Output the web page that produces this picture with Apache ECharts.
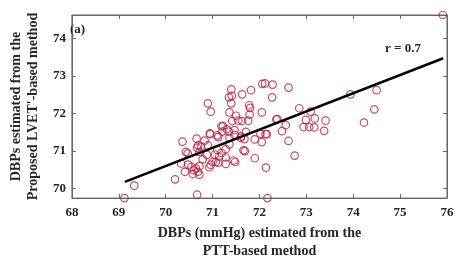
<!DOCTYPE html>
<html><head><meta charset="utf-8">
<script src="https://cdn.jsdelivr.net/npm/echarts@6/dist/echarts.min.js"></script>
<style>html,body{margin:0;padding:0;background:#fff}#c{width:457px;height:265px}</style>
</head><body><div id="c"></div>
<script>
// PTT-based DBP (x) vs proposed LVET'-based DBP (y)
const ptt = [75.91,70.90,70.96,71.40,71.35,71.41,71.40,71.63,71.82,71.78,71.80,71.36,71.50,72.05,72.06,72.12,72.28,72.62,72.27,73.94,74.50,72.85,73.09,74.45,74.23,72.99,73.18,73.41,72.94,73.06,73.17,73.38,72.36,72.56,72.48,71.90,72.02,72.13,72.16,72.05,72.62,71.90,72.75,72.14,72.17,71.79,71.76,71.63,72.38,71.71,71.68,71.69,71.22,71.30,71.35,70.94,71.10,71.47,71.55,71.42,70.36,70.66,71.47,71.61,70.69,70.75,70.90,70.43,70.47,70.72,71.10,71.19,71.28,71.36,71.66,70.88,71.05,71.14,71.28,70.79,71.00,71.07,71.45,70.41,70.55,70.60,70.64,70.69,70.72,70.58,70.72,70.96,70.93,71.12,70.48,70.20,70.67,71.48,71.28,69.33,69.12,70.95,70.83,71.12,70.67,71.19,71.21,71.60,71.36,70.33];
const lvet = [74.62,72.27,72.05,72.64,72.43,72.47,72.27,72.51,72.62,72.22,72.15,72.03,71.94,72.03,72.79,72.80,72.77,72.69,72.43,72.51,72.62,72.14,72.05,72.11,71.76,71.83,71.87,71.81,71.64,71.64,71.63,71.54,71.84,71.69,71.53,71.31,71.46,71.45,71.45,71.24,71.27,70.81,70.88,70.56,69.75,71.97,71.81,71.80,71.85,71.51,71.32,71.00,71.67,71.58,71.52,71.47,71.42,71.56,71.81,71.80,71.25,71.33,71.43,71.39,71.15,71.12,71.15,70.98,70.94,70.98,71.03,70.95,71.05,71.18,71.02,70.90,70.91,70.85,70.83,70.78,70.71,70.71,70.75,70.45,70.58,70.49,70.54,70.45,70.37,70.39,70.60,70.64,70.57,70.69,70.64,70.25,69.84,70.71,70.66,70.08,69.75,71.45,71.28,71.37,71.09,71.66,71.52,71.35,71.35,70.67];
// regression line endpoints
const fitX = [69.13, 75.92];
const fitY = [70.18, 73.47];
const yTicks = [70, 71, 72, 73, 74];
const xTitle = 'DBPs (mmHg) estimated from the\nPTT-based method';
const yTitle = 'DBPs estimated from the\nProposed LVET\'-based method';
const panelLabel = '(a)';
const rLabel = 'r = 0.7';

const serif = 'Liberation Serif';
const txt = '#262626';
const axCol = '#666';
const scatterData = ptt.map((v, i) => [v, lvet[i]]);
const lineData = fitX.map((v, i) => [v, fitY[i]]);

const chart = echarts.init(document.getElementById('c'), null, {renderer: 'canvas'});
chart.setOption({
  animation: false,
  grid: {left: 62.5, right: 10, top: 15, bottom: 59, show: true, borderColor: axCol, borderWidth: 1},
  xAxis: [
    {type: 'value', min: 68, max: 76, interval: 1, position: 'bottom',
     axisLine: {show: true, onZero: false, lineStyle: {color: axCol}},
     axisTick: {show: true, inside: true, length: 4, lineStyle: {color: axCol}},
     splitLine: {show: false},
     axisLabel: {color: txt, fontFamily: serif, fontWeight: 'bold', fontSize: 13, margin: 8},
     name: xTitle, nameLocation: 'middle', nameGap: 25,
     nameTextStyle: {color: txt, fontFamily: serif, fontWeight: 'bold', fontSize: 14, lineHeight: 18}},
    {type: 'value', min: 68, max: 76, interval: 1, position: 'top',
     axisLine: {show: true, onZero: false, lineStyle: {color: axCol}},
     axisTick: {show: true, inside: true, length: 4, lineStyle: {color: axCol}},
     axisLabel: {show: false}, splitLine: {show: false}}
  ],
  yAxis: [
    {type: 'value', min: 69.75, max: 74.62, position: 'left',
     axisLine: {show: true, onZero: false, lineStyle: {color: axCol}},
     axisTick: {show: true, inside: true, length: 4, customValues: yTicks, lineStyle: {color: axCol}},
     splitLine: {show: false},
     axisLabel: {customValues: yTicks, color: txt, fontFamily: serif, fontWeight: 'bold', fontSize: 13, margin: 6},
     name: yTitle, nameLocation: 'middle', nameRotate: 90, nameGap: 26,
     nameTextStyle: {color: txt, fontFamily: serif, fontWeight: 'bold', fontSize: 14, lineHeight: 17}},
    {type: 'value', min: 69.75, max: 74.62, position: 'right',
     axisLine: {show: true, onZero: false, lineStyle: {color: axCol}},
     axisTick: {show: true, inside: true, length: 4, customValues: yTicks, lineStyle: {color: axCol}},
     axisLabel: {show: false}, splitLine: {show: false}}
  ],
  series: [
    {type: 'scatter', xAxisIndex: 0, yAxisIndex: 0, data: scatterData, symbol: 'circle', symbolSize: 7.5,
     itemStyle: {color: 'rgba(0,0,0,0)', borderColor: '#b8213f', borderWidth: 1.2}, z: 2},
    {type: 'line', xAxisIndex: 0, yAxisIndex: 0, data: lineData, symbol: 'none',
     lineStyle: {color: '#000', width: 2.5}, z: 3}
  ],
  graphic: [
    {type: 'text', left: 70, top: 23, style: {text: panelLabel, font: 'bold 13px "Liberation Serif"', fill: txt}},
    {type: 'text', left: 385, top: 42, style: {text: rLabel, font: 'bold 13px "Liberation Serif"', fill: txt}}
  ]
});
</script></body></html>
